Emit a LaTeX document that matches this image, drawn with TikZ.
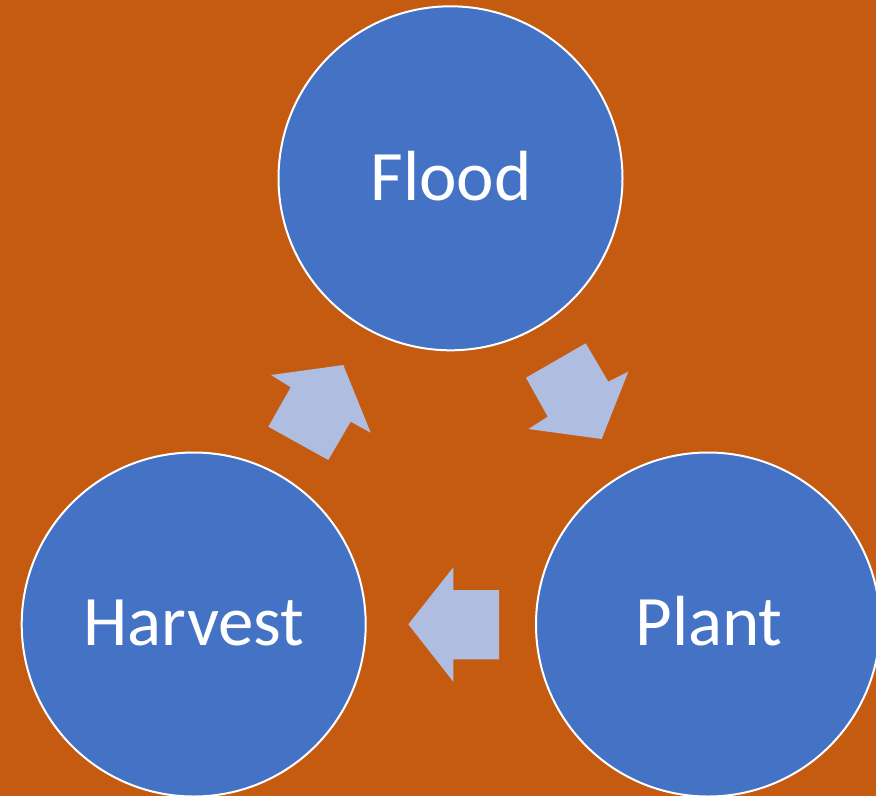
\documentclass[tikz,border=0pt]{standalone}
\usepackage{fontspec}
\setmainfont{Carlito}
\definecolor{bgorange}{HTML}{C55A11}
\definecolor{circblue}{HTML}{4472C4}
\definecolor{arrblue}{RGB}{175,189,224}
\begin{document}
\begin{tikzpicture}[x=1pt,y=-1pt,
  circ/.style={circle,draw=white,line width=2pt,fill=circblue,minimum size=344pt,inner sep=0pt},
  lbl/.style={text=white,font=\fontsize{71}{80}\selectfont,anchor=base,inner sep=0pt},
  blockarrow/.style={fill=arrblue,draw=none}]
\fill[bgorange] (0,0) rectangle (876,796);
\useasboundingbox (0,0) rectangle (876,796);
\node[circ] (flood) at (450.5,178.3) {};
\node[circ] (plant) at (708,624.5) {};
\node[circ] (harvest) at (193.7,624.5) {};
\node[lbl] (floodt) at (451,200) {Flood};
\node[lbl] (plantt) at (709,645) {Plant};
\node[lbl] (harvestt) at (194,645) {Harvest};
% Harvest -> Flood
\fill[blockarrow] (268.3,426.7) -- (328.3,460) -- (350.7,421.7) -- (370.7,432.7)
  -- (343.3,365) -- (271,375) -- (290.7,387.3) -- cycle;
% Flood -> Plant
\fill[blockarrow] (585.7,343.3) -- (526,377.7) -- (547.7,416.7) -- (528.3,429)
  -- (601.7,439) -- (628.3,371.7) -- (608.3,381.7) -- cycle;
% Plant -> Harvest
\fill[blockarrow] (499,590) -- (499,659.3) -- (453.3,659.3) -- (453.3,681.7)
  -- (408.3,624.3) -- (453.3,567.3) -- (453.3,590) -- cycle;
\end{tikzpicture}
\end{document}
